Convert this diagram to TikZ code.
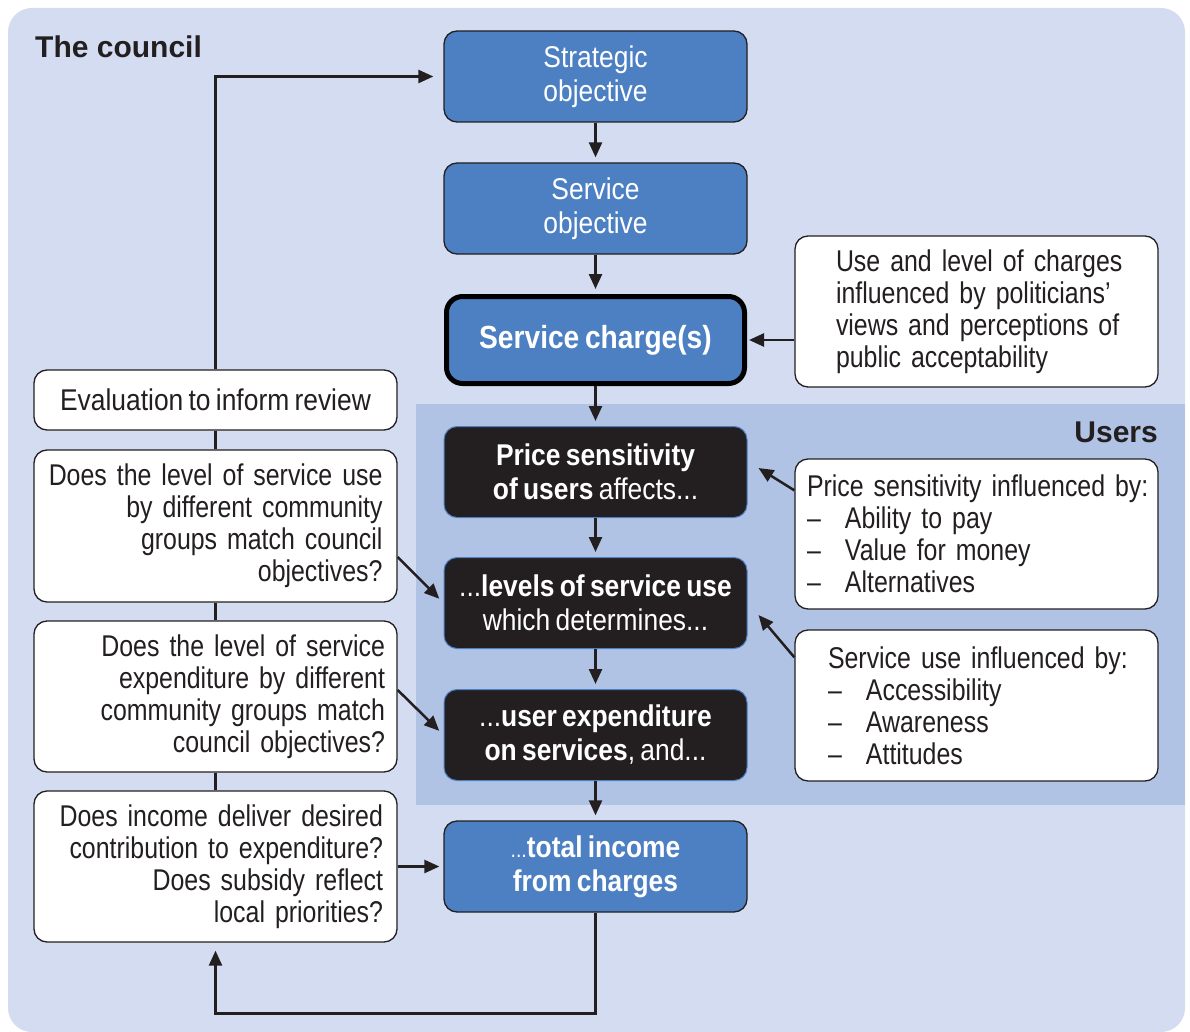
\documentclass[tikz,border=0pt]{standalone}
\usepackage{fontspec}
\setmainfont{Liberation Sans}[FakeStretch=0.88, WordSpace=0.72]
\newfontfamily\notefont{Liberation Sans}[FakeStretch=0.83, WordSpace=0.66]
\newfontfamily\headfont{Liberation Sans}
\usetikzlibrary{arrows.meta}
\definecolor{bgc}{HTML}{D3DCF0}
\definecolor{userc}{HTML}{B1C3E4}
\definecolor{boxblue}{HTML}{4D80C3}
\definecolor{boxdark}{HTML}{231F20}
\newcommand\dashitem[1]{\makebox[38pt][l]{–}#1}
\tikzset{
  boxbase/.style={rounded corners=13pt, minimum width=303pt, minimum height=91pt, align=center, text=white, inner sep=0pt, font=\fontsize{30}{34}\selectfont},
  bluebox/.style={boxbase, fill=boxblue, draw=boxdark, line width=1.3pt},
  darkbox/.style={boxbase, fill=boxdark, draw=boxblue, line width=1pt},
  notebox/.style={rounded corners=13pt, minimum width=363pt, fill=white, draw=boxdark, line width=1.3pt, text=boxdark, inner sep=0pt, font=\notefont\fontsize{30}{32}\selectfont},
  headlabel/.style={text=boxdark, inner sep=0pt, font=\headfont\bfseries\fontsize{30}{32}\selectfont},
  link/.style={draw=boxdark, line width=2.5pt},
  arr/.style={link, -{Triangle[length=15pt,width=13pt]}},
}
\begin{document}
\begin{tikzpicture}[x=1pt,y=-1pt]
\useasboundingbox (0,0) rectangle (1190,1032);
\fill[bgc, rounded corners=24pt] (8,8) rectangle (1185,1032);
\fill[userc] (416,404) rectangle (1185,805);
\node[headlabel, anchor=base west] (council) at (35,58) {The council};
\node[headlabel, anchor=base east] (users) at (1158,442) {Users};
% centre column
\node[bluebox] (strat) at (595.5,76.5) {Strategic\\objective};
\node[bluebox] (svc) at (595.5,208.5) {Service\\objective};
\node[bluebox, draw=black, line width=5pt, rounded corners=16pt, minimum width=298pt, minimum height=87pt, font=\bfseries\fontsize{32}{34}\selectfont] (charge) at (595.5,340) {Service charge(s)};
\node[darkbox] (sens) at (595.5,472) {\textbf{Price sensitivity}\\\textbf{of users} affects...};
\node[darkbox] (uselvl) at (595.5,603) {...\textbf{levels of service use}\\which determines...};
\node[darkbox] (spend) at (595.5,735) {...\textbf{user expenditure}\\\textbf{on services}, and...};
\node[bluebox] (income) at (595.5,866.5) {{\fontsize{22}{34}\selectfont...}\textbf{total income}\\\textbf{from charges}};
% left column
\node[notebox, minimum height=60pt, align=center, font=\rmfamily\fontsize{30}{32}\selectfont] (eval) at (215.5,400) {Evaluation to inform review};
\node[notebox, minimum height=152pt, align=right, text width=334pt] (q1) at (215.5,526) {\mbox{Does the level of service use}\\\mbox{by different community}\\\mbox{groups match council}\\objectives?};
\node[notebox, minimum height=151pt, align=right, text width=339pt] (q2) at (215.5,696.5) {\mbox{Does the level of service}\\\mbox{expenditure by different}\\\mbox{community groups match}\\\mbox{council objectives?}};
\node[notebox, minimum height=151pt, align=right, text width=335pt] (q3) at (215.5,866.5) {\mbox{Does income deliver desired}\\\mbox{contribution to expenditure?}\\\mbox{Does subsidy reflect}\\\mbox{local priorities?}};
% right column
\node[notebox, minimum height=151pt, align=left, text width=281pt] (polit) at (976.5,311.5) {\mbox{Use and level of charges}\\\mbox{influenced by politicians’}\\\mbox{views and perceptions of}\\\mbox{public acceptability}};
\node[notebox, minimum height=150pt, align=left, text width=339pt] (pinfl) at (976.5,534) {\mbox{Price sensitivity influenced by:}\\\dashitem{Ability to pay}\\\dashitem{Value for money}\\\dashitem{Alternatives}};
\node[notebox, minimum height=151pt, align=left, text width=297pt] (uinfl) at (976.5,705.5) {\mbox{Service use influenced by:}\\\dashitem{Accessibility}\\\dashitem{Awareness}\\\dashitem{Attitudes}};
% connectors
\draw[arr, shorten >=5pt] (strat) -- (svc);
\draw[arr, shorten >=5pt] (svc) -- (charge);
\draw[arr, shorten >=5pt] (charge) -- (sens);
\draw[arr, shorten >=5pt] (sens) -- (uselvl);
\draw[arr, shorten >=5pt] (uselvl) -- (spend);
\draw[arr, shorten >=5pt] (spend) -- (income);
\draw[arr, shorten >=2pt] (charge.east -| polit.west) -- (charge.east);
\draw[arr] ([yshift=-32pt]pinfl.north west) -- ([xshift=11pt,yshift=4pt]sens.east);
\draw[arr] ([yshift=-28pt]uinfl.north west) -- ([xshift=11pt,yshift=-12pt]uselvl.east);
\draw[arr, shorten >=6pt] ([yshift=-31pt]q1.east) -- (uselvl.west);
\draw[arr, shorten >=6pt] ([yshift=6.5pt]q2.east) -- (spend.west);
\draw[arr, shorten >=4pt] (q3) -- (income);
\draw[link] (q3) -- (q2);
\draw[link] (q2) -- (q1);
\draw[link] (q1) -- (eval);
\draw[arr, shorten >=10pt] (eval.north) |- (strat.west);
\draw[arr, shorten >=8pt] (income.south) -- ++(0,101) -| (q3.south);
\end{tikzpicture}
\end{document}
